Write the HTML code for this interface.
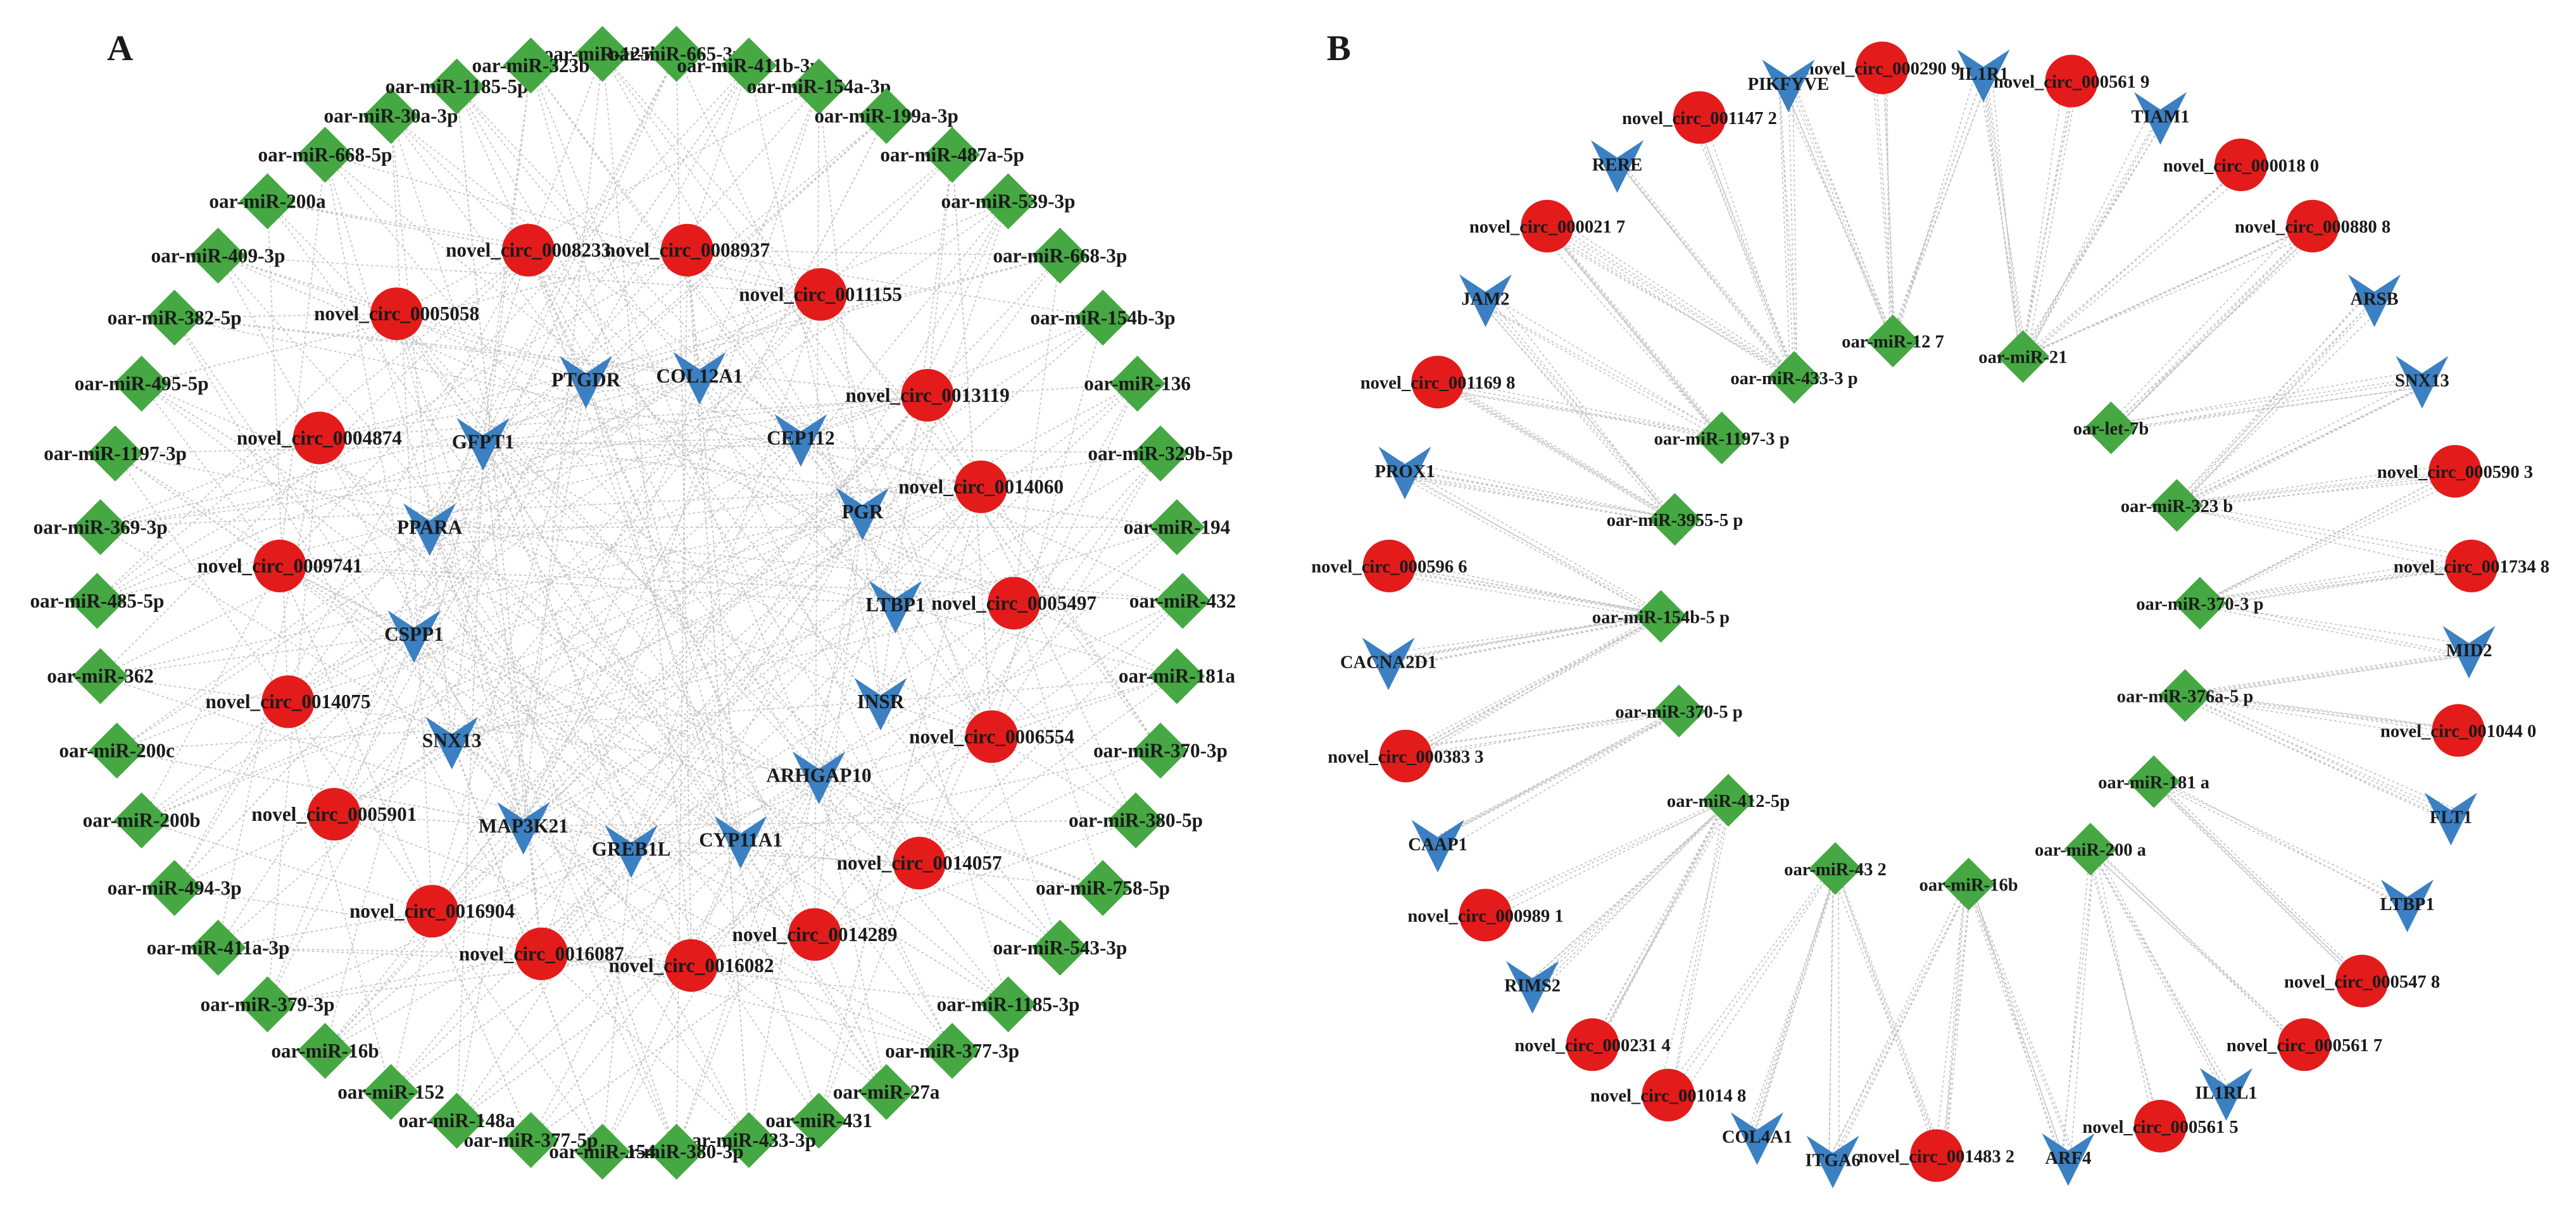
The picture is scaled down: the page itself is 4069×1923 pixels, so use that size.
<!DOCTYPE html>
<html><head><meta charset="utf-8"><style>
html,body{margin:0;padding:0;background:#fff;}
svg{display:block;}
text{font-family:"Liberation Serif",serif;font-weight:bold;fill:#1a1a1a;}
</style></head><body>
<svg id="s" width="4069" height="1923" viewBox="0 0 3130 1479" xmlns="http://www.w3.org/2000/svg">
<rect width="3130" height="1479" fill="#fff"/>
<g id="edges"></g><g id="nodes"></g>
<text x="130" y="73" font-size="44">A</text>
<text x="1612" y="73" font-size="44">B</text>
</svg>
<script>
var NS="http://www.w3.org/2000/svg";
var E=document.getElementById('edges'),N=document.getElementById('nodes');
var seed=7;function rnd(){seed=(seed*16807)%2147483647;return seed/2147483647;}
function Y(y){return 65.4+(y-70)*0.943;}
function el(t,a,p){var e=document.createElementNS(NS,t);for(var k in a)e.setAttribute(k,a[k]);(p||N).appendChild(e);return e;}
function line(a,b,c,d){el('line',{x1:a,y1:Y(b),x2:c,y2:Y(d),stroke:'#c4c4c4','stroke-width':1.3,'stroke-dasharray':'3 3'},E);}
function dia(x,y,r,l,fs){y=Y(y);el('polygon',{points:(x)+','+(y-r)+' '+(x+r)+','+y+' '+x+','+(y+r)+' '+(x-r)+','+y,fill:'#45a843'});lab(x,y,l,fs);}
function cir(x,y,l,fs){y=Y(y);el('circle',{cx:x,cy:y,r:32,fill:'#e31b1b'});lab(x,y,l,fs);}
function vee(x,y,l,fs){y=Y(y);el('polygon',{points:(x-32)+','+(y-29)+' '+x+','+(y-8)+' '+(x+32)+','+(y-29)+' '+x+','+(y+35),fill:'#3b80c2'});lab(x,y,l,fs);}
function lab(x,y,l,fs){var t=el('text',{x:x,y:y+8,'font-size':fs,'text-anchor':'middle'});t.textContent=l;}
// Panel A
var AD=[[732,70,"oar-miR-125b"],[822,70,"oar-miR-665-3p"],[910,85,"oar-miR-411b-3p"],[995,112,"oar-miR-154a-3p"],[1077,150,"oar-miR-199a-3p"],[1157,200,"oar-miR-487a-5p"],[1225,260,"oar-miR-539-3p"],[1288,330,"oar-miR-668-3p"],[1340,410,"oar-miR-154b-3p"],[1382,495,"oar-miR-136"],[1410,585,"oar-miR-329b-5p"],[1430,680,"oar-miR-194"],[1437,775,"oar-miR-432"],[1430,872,"oar-miR-181a"],[1410,968,"oar-miR-370-3p"],[1380,1058,"oar-miR-380-5p"],[1340,1145,"oar-miR-758-5p"],[1288,1222,"oar-miR-543-3p"],[1225,1295,"oar-miR-1185-3p"],[1157,1355,"oar-miR-377-3p"],[1077,1408,"oar-miR-27a"],[995,1445,"oar-miR-431"],[910,1470,"oar-miR-433-3p"],[822,1485,"oar-miR-380-3p"],[732,1485,"oar-miR-154"],[645,1470,"oar-miR-377-5p"],[555,1445,"oar-miR-148a"],[475,1408,"oar-miR-152"],[395,1355,"oar-miR-16b"],[325,1295,"oar-miR-379-3p"],[265,1222,"oar-miR-411a-3p"],[212,1145,"oar-miR-494-3p"],[172,1058,"oar-miR-200b"],[142,968,"oar-miR-200c"],[122,872,"oar-miR-362"],[118,775,"oar-miR-485-5p"],[122,680,"oar-miR-369-3p"],[140,585,"oar-miR-1197-3p"],[172,495,"oar-miR-495-5p"],[212,410,"oar-miR-382-5p"],[265,330,"oar-miR-409-3p"],[325,260,"oar-miR-200a"],[395,200,"oar-miR-668-5p"],[475,150,"oar-miR-30a-3p"],[555,112,"oar-miR-1185-5p"],[645,85,"oar-miR-323b"]];
var AC=[[642,323,"novel_circ_0008233"],[835,323,"novel_circ_0008937"],[997,380,"novel_circ_0011155"],[482,405,"novel_circ_0005058"],[1127,510,"novel_circ_0013119"],[388,565,"novel_circ_0004874"],[1192,628,"novel_circ_0014060"],[340,730,"novel_circ_0009741"],[1232,778,"novel_circ_0005497"],[350,905,"novel_circ_0014075"],[1205,950,"novel_circ_0006554"],[406,1050,"novel_circ_0005901"],[1117,1113,"novel_circ_0014057"],[525,1175,"novel_circ_0016904"],[990,1205,"novel_circ_0014289"],[658,1230,"novel_circ_0016087"],[840,1245,"novel_circ_0016082"]];
var AV=[[712,490,"PTGDR"],[850,485,"COL12A1"],[587,570,"GFPT1"],[973,565,"CEP112"],[522,680,"PPARA"],[1048,660,"PGR"],[503,818,"CSPP1"],[1088,780,"LTBP1"],[1070,905,"INSR"],[549,955,"SNX13"],[995,1000,"ARHGAP10"],[636,1065,"MAP3K21"],[767,1095,"GREB1L"],[900,1083,"CYP11A1"]];
var inner=AC.concat(AV);
AD.forEach(function(d){for(var i=0;i<6;i++){var t=inner[Math.floor(rnd()*inner.length)];line(d[0],d[1],t[0],t[1]);}});
AC.forEach(function(c){for(var i=0;i<3;i++){var t=AV[Math.floor(rnd()*AV.length)];line(c[0],c[1],t[0],t[1]);}});
AD.forEach(function(d){dia(d[0],d[1],34,d[2],24);});
AC.forEach(function(d){cir(d[0],d[1],d[2],24);});
AV.forEach(function(d){vee(d[0],d[1],d[2],24);});
// Panel B
var o=1565;
var BD=[[735,440,"oar-miR-12 7"],[893,460,"oar-miR-21"],[615,487,"oar-miR-433-3 p"],[1000,552,"oar-let-7b"],[527,565,"oar-miR-1197-3 p"],[1080,652,"oar-miR-323 b"],[470,670,"oar-miR-3955-5 p"],[1108,778,"oar-miR-370-3 p"],[453,795,"oar-miR-154b-5 p"],[1090,897,"oar-miR-376a-5 p"],[475,917,"oar-miR-370-5 p"],[1052,1008,"oar-miR-181 a"],[535,1032,"oar-miR-412-5p"],[975,1095,"oar-miR-200 a"],[665,1120,"oar-miR-43 2"],[827,1140,"oar-miR-16b"]];
var BC=[[722,88,"novel_circ_000290 9"],[952,105,"novel_circ_000561 9"],[500,152,"novel_circ_001147 2"],[1158,213,"novel_circ_000018 0"],[315,292,"novel_circ_000021 7"],[1245,292,"novel_circ_000880 8"],[182,493,"novel_circ_001169 8"],[1418,608,"novel_circ_000590 3"],[123,730,"novel_circ_000596 6"],[1438,730,"novel_circ_001734 8"],[143,975,"novel_circ_000383 3"],[1422,942,"novel_circ_001044 0"],[240,1180,"novel_circ_000989 1"],[1305,1265,"novel_circ_000547 8"],[370,1347,"novel_circ_000231 4"],[1235,1347,"novel_circ_000561 7"],[462,1412,"novel_circ_001014 8"],[1060,1452,"novel_circ_000561 5"],[788,1490,"novel_circ_001483 2"]];
var BV=[[608,108,"PIKFYVE"],[845,95,"IL1R1"],[1060,150,"TIAM1"],[400,212,"RERE"],[240,385,"JAM2"],[1320,385,"ARSB"],[1378,490,"SNX13"],[142,607,"PROX1"],[122,853,"CACNA2D1"],[1435,838,"MID2"],[182,1088,"CAAP1"],[1413,1053,"FLT1"],[297,1270,"RIMS2"],[1360,1165,"LTBP1"],[1140,1408,"IL1RL1"],[570,1465,"COL4A1"],[662,1495,"ITGA6"],[948,1492,"ARF4"]];
var outer=BC.concat(BV);
outer.forEach(function(n){
  var arr=BD.map(function(d){return [Math.hypot(d[0]-n[0],d[1]-n[1]),d];}).sort(function(a,b){return a[0]-b[0];});
  var cnt=1+Math.floor(rnd()*2);
  for(var j=0;j<cnt;j++){var d=arr[j][1];var k=3+Math.floor(rnd()*4);
    for(var i=0;i<k;i++){var dx=(rnd()-0.5)*24,dy=(rnd()-0.5)*24;line(o+n[0]+dx,n[1]+dy,o+d[0]+(rnd()-0.5)*10,d[1]+(rnd()-0.5)*10);}}
});
BD.forEach(function(d){dia(o+d[0],d[1],32,d[2],22);});
BC.forEach(function(d){cir(o+d[0],d[1],d[2],22);});
BV.forEach(function(d){vee(o+d[0],d[1],d[2],22);});
</script>
</body></html>
